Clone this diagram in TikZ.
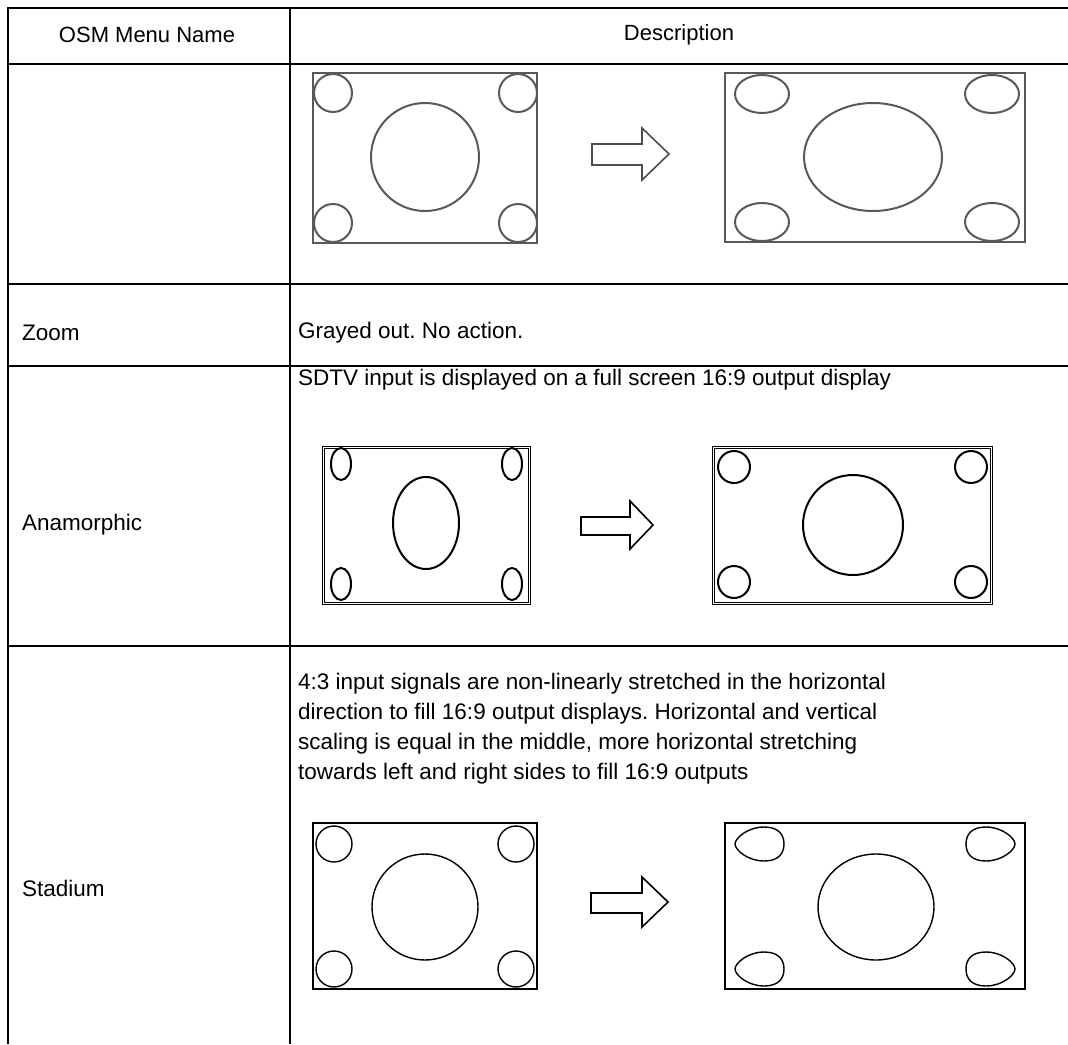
\documentclass[tikz,border=0pt]{standalone}
\usepackage{fontspec}
\setmainfont{Liberation Sans}
\usetikzlibrary{positioning}
\frenchspacing

\begin{document}
\begin{tikzpicture}[x=1pt,y=-1pt,
    rule/.style={line width=2.4pt,black},
    head_txt/.style={font=\fontsize{22}{30}\selectfont},
    name_txt/.style={anchor=west,inner sep=0pt,font=\fontsize{22.5}{30}\selectfont},
    desc_txt/.style={anchor=west,align=left,font=\fontsize{22.5}{30}\selectfont,inner sep=0pt},
    screen/.style={line width=2pt,black},
    dim_screen/.style={line width=2pt,black!65},
    blk_arrow/.style={line width=1.6pt,black,line join=miter}]

    \useasboundingbox (0,0) rectangle (1068,1044);
    \fill[white] (0,0) rectangle (1068,1044);

    % table rules
    \foreach \y in {8,64,284,366,646}
        \draw[rule] (8,\y) -- (1068,\y);
    \draw[rule] (8,7) -- (8,1044);
    \draw[rule] (290,7) -- (290,1044);

    % header and names
    \node[head_txt] (h_name) at (147,35) {OSM Menu Name};
    \node[head_txt] (h_desc) at (679,35) {Description};
    \node[name_txt] (n_zoom) at (22,333) {Zoom};
    \node[name_txt] (n_anam) at (22,525) {Anamorphic};
    \node[name_txt] (n_stad) at (22,888) {Stadium};

    \node[desc_txt] (d_zoom) at (298,333) {Grayed out. No action.};
    \node[desc_txt] (d_anam) at (298,380) {SDTV input is displayed on a full screen 16:9 output display};
    \node[desc_txt,anchor=north west] (d_stad) at (298,673) {4:3 input signals are non-linearly stretched in the horizontal\\
        direction to fill 16:9 output displays. Horizontal and vertical\\
        scaling is equal in the middle, more horizontal stretching\\
        towards left and right sides to fill 16:9 outputs};

    % first row: 4:3 -> 16:9
    \draw[dim_screen] (313,73) rectangle (537,243);
    \draw[dim_screen] (425,157) circle [radius=54pt];
    \foreach \cx/\cy in {333/93,518/93,333/223,518/223}
        \draw[dim_screen] (\cx,\cy) circle [radius=19pt];
    \draw[blk_arrow,black!70] (592,144) -- (642,144) -- (642,128) -- (669,154)
        -- (642,180) -- (642,165) -- (592,165) -- cycle;
    \draw[dim_screen] (725,73) rectangle (1025,242);
    \draw[dim_screen] (873,157) ellipse [x radius=69pt,y radius=54pt];
    \foreach \cx/\cy in {762/94,992/94,762/222,992/222}
        \draw[dim_screen] (\cx,\cy) ellipse [x radius=27pt,y radius=19pt];

    % anamorphic
    \draw[screen,double,double distance=0.8pt,line width=1.1pt] (323,447) rectangle (529,603);
    \draw[screen] (426,523) ellipse [x radius=33pt,y radius=46pt];
    \foreach \cx/\cy in {341/464,512/464,341/584,512/584}
        \draw[screen] (\cx,\cy) ellipse [x radius=10pt,y radius=16pt];
    \draw[blk_arrow] (581,517) -- (630,517) -- (630,501) -- (653,525)
        -- (630,549) -- (630,535) -- (581,535) -- cycle;
    \draw[screen,double,double distance=0.8pt,line width=1.1pt] (713,447) rectangle (991,603);
    \draw[screen] (853,525) circle [radius=50pt];
    \foreach \cx/\cy in {734/467,971/467,734/582,971/582}
        \draw[screen] (\cx,\cy) circle [radius=16pt];

    % stadium
    \draw[screen,line width=1.6pt] (313,823) rectangle (537,989);
    \draw[screen,line width=1.4pt] (425,907) circle [radius=53pt];
    \foreach \cx/\cy in {334/844,516/844,334/969,516/969}
        \draw[screen,line width=1.4pt] (\cx,\cy) circle [radius=18pt];
    \draw[blk_arrow] (591,893) -- (642,893) -- (642,877) -- (668,902)
        -- (642,927) -- (642,913) -- (591,913) -- cycle;
    \draw[screen,line width=1.6pt] (725,823) rectangle (1025,989);
    \draw[screen,line width=1.4pt] (876,907) ellipse [x radius=58pt,y radius=53pt];
    \foreach \cx/\cy/\s in {760/844/-1,990/844/1,760/969/-1,990/969/1}
        \draw[screen,line width=1.4pt] (\cx+\s*25,\cy)
            .. controls (\cx+\s*25,\cy-6) and (\cx+\s*12,\cy-17) .. (\cx-\s*4,\cy-17)
            .. controls (\cx-\s*18,\cy-17) and (\cx-\s*24,\cy-10) .. (\cx-\s*24,\cy)
            .. controls (\cx-\s*24,\cy+10) and (\cx-\s*18,\cy+17) .. (\cx-\s*4,\cy+17)
            .. controls (\cx+\s*12,\cy+17) and (\cx+\s*25,\cy+6) .. cycle;
\end{tikzpicture}
\end{document}
